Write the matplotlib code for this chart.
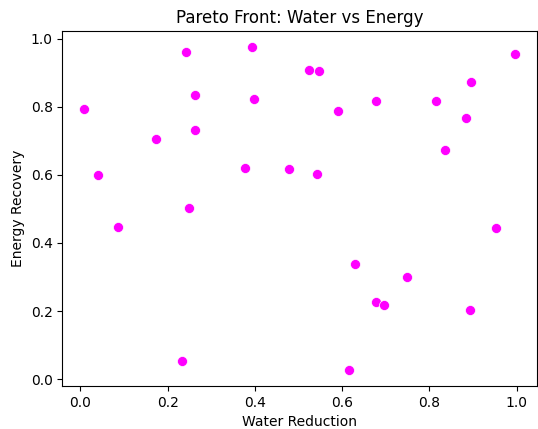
import matplotlib.pyplot as plt

# Water reduction / energy recovery values
water_reduction = [0.008, 0.041, 0.173, 0.243, 0.263, 0.263, 0.249, 0.378, 0.394, 0.398,
                   0.525, 0.546, 0.591, 0.677, 0.479, 0.543, 0.816, 0.883, 0.896, 0.997,
                   0.835, 0.085, 0.233, 0.953, 0.630, 0.748, 0.678, 0.695, 0.894, 0.615]
energy_recovery = [0.794, 0.599, 0.704, 0.960, 0.835, 0.732, 0.501, 0.619, 0.975, 0.823,
                   0.909, 0.904, 0.786, 0.818, 0.616, 0.602, 0.818, 0.768, 0.873, 0.955,
                   0.673, 0.446, 0.053, 0.445, 0.339, 0.300, 0.227, 0.218, 0.202, 0.027]

fig = plt.figure(figsize=(5.38, 4.29), dpi=100)
ax = fig.add_axes([0.116, 0.1, 0.882, 0.828])
ax.scatter(water_reduction, energy_recovery, color='magenta', s=52,
           edgecolors='white', linewidths=0.5)
ax.set_title('Pareto Front: Water vs Energy')
ax.set_xlabel('Water Reduction')
ax.set_ylabel('Energy Recovery')
fig.savefig('out.png', dpi=100)
